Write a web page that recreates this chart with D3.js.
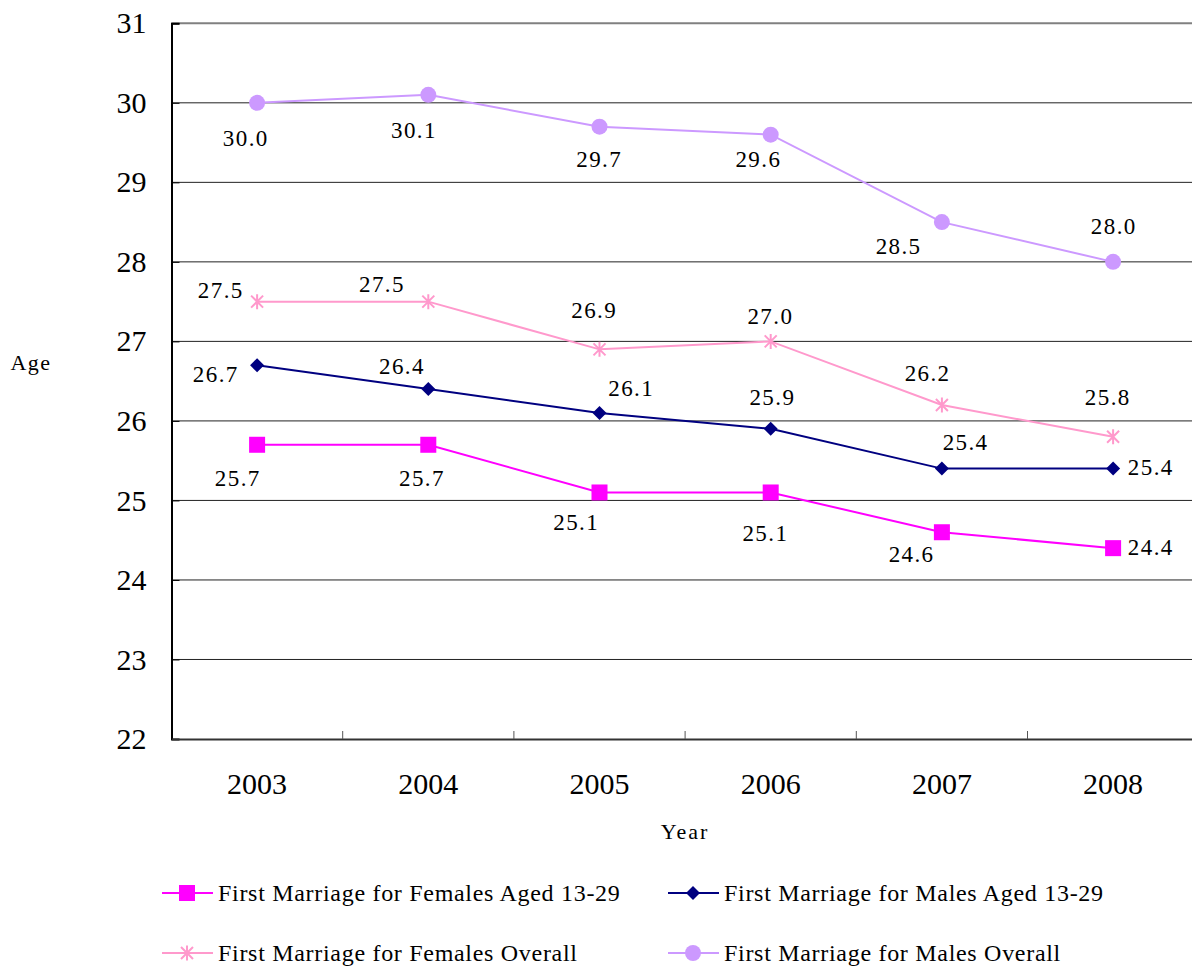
<!DOCTYPE html>
<html lang="en">
<head>
<meta charset="UTF-8">
<title>Age at First Marriage</title>
<style>
  * { margin: 0; padding: 0; }
  body { background: #fff; width: 1192px; height: 970px; overflow: hidden; }
  svg { display: block; font-family: 'Liberation Serif', 'Times New Roman', serif; }
</style>
</head>
<body>
<svg width="1192" height="970"></svg>
<script src="https://d3js.org/d3.v7.min.js"></script>
<script>
// data
const years = ['2003', '2004', '2005', '2006', '2007', '2008'];
const femalesYoung = [25.7, 25.7, 25.1, 25.1, 24.6, 24.4];
const malesYoung = [26.7, 26.4, 26.1, 25.9, 25.4, 25.4];
const femalesAll = [27.5, 27.5, 26.9, 27.0, 26.2, 25.8];
const malesAll = [30.0, 30.1, 29.7, 29.6, 28.5, 28.0];
const yTicks = [22, 23, 24, 25, 26, 27, 28, 29, 30, 31];

// label offsets from the point (centre of text), per series
const labelOffsets = {
  femalesYoung: [[-20, 34], [-7, 34], [-24, 30], [-6, 41], [-31, 22], [37, -1]],
  malesYoung: [[-42, 9], [-27, -23], [31, -24], [1, -31], [23, -26], [37, -1]],
  femalesAll: [[-37, -11], [-47, -17], [-6, -39], [-1, -25], [-15, -32], [-6, -39]],
  malesAll: [[-12, 36], [-15, 36], [-1, 33], [-13, 25], [-44, 24], [0, -35]],
};

const series = [
  { key: 'femalesYoung', name: 'First Marriage for Females Aged 13-29', values: femalesYoung, color: '#FF00FF', marker: 'square' },
  { key: 'malesYoung', name: 'First Marriage for Males Aged 13-29', values: malesYoung, color: '#000080', marker: 'diamond' },
  { key: 'femalesAll', name: 'First Marriage for Females Overall', values: femalesAll, color: '#FF99CC', marker: 'star' },
  { key: 'malesAll', name: 'First Marriage for Males Overall', values: malesAll, color: '#CC99FF', marker: 'circle' },
];

const svg = d3.select('svg');
const plotLeft = 171.5, plotRight = 1198.7, plotTop = 23.3, plotBottom = 739;

const x = d3.scaleBand().domain(years).range([plotLeft, plotRight]);
const xc = d => x(d) + x.bandwidth() / 2;
const y = d3.scaleLinear().domain([22, 31]).range([plotBottom, plotTop]);

// grid
svg.append('g').selectAll('line')
  .data(yTicks.filter(t => t > 22 && t < 31)).join('line')
  .attr('x1', plotLeft).attr('x2', plotRight)
  .attr('y1', d => y(d)).attr('y2', d => y(d))
  .attr('stroke', '#222').attr('stroke-width', 1);

// top frame
svg.append('line')
  .attr('x1', plotLeft).attr('x2', plotRight).attr('y1', y(31)).attr('y2', y(31))
  .attr('stroke', '#808080').attr('stroke-width', 2);

// y axis
const yAxis = svg.append('g')
  .attr('transform', `translate(${plotLeft},0)`)
  .call(d3.axisLeft(y).tickValues(yTicks).tickSize(-8).tickPadding(25).tickFormat(d3.format('d')));
yAxis.select('.domain').attr('stroke', '#000').attr('stroke-width', 2);
yAxis.selectAll('.tick line').attr('stroke', '#000');
yAxis.selectAll('text').attr('font-size', 30).attr('fill', '#000').attr('font-family', 'Liberation Serif');

// x axis
const xAxis = svg.append('g')
  .attr('transform', `translate(0,${plotBottom})`)
  .call(d3.axisBottom(x).tickSize(0).tickPadding(34));
xAxis.select('.domain').attr('stroke', '#333').attr('stroke-width', 2);
xAxis.selectAll('text').attr('font-size', 30).attr('fill', '#000').attr('font-family', 'Liberation Serif');
svg.append('g').selectAll('line')
  .data(years.slice(1)).join('line')
  .attr('x1', d => x(d)).attr('x2', d => x(d))
  .attr('y1', plotBottom).attr('y2', plotBottom - 8)
  .attr('stroke', '#555').attr('stroke-width', 1);

// axis titles
svg.append('text').attr('x', 31).attr('y', 370).attr('text-anchor', 'middle')
  .attr('font-size', 22).attr('letter-spacing', 1.5).text('Age');
svg.append('text').attr('x', 685).attr('y', 839).attr('text-anchor', 'middle')
  .attr('font-size', 22).attr('letter-spacing', 2).text('Year');

function drawMarker(g, type, color) {
  if (type === 'square') {
    g.append('rect').attr('x', -8).attr('y', -8).attr('width', 16).attr('height', 16).attr('fill', color);
  } else if (type === 'diamond') {
    g.append('path').attr('d', 'M0,-7L7,0L0,7L-7,0Z').attr('fill', color);
  } else if (type === 'circle') {
    g.append('circle').attr('r', 8).attr('fill', color);
  } else {
    g.append('path').attr('d', 'M-6,-6L6,6M-6,6L6,-6M0,-7.5L0,7.5')
      .attr('stroke', color).attr('stroke-width', 2).attr('fill', 'none');
  }
}

const line = d3.line().x((d, i) => xc(years[i])).y(d => y(d));

for (const s of series) {
  const g = svg.append('g');
  g.append('path').datum(s.values)
    .attr('d', line).attr('fill', 'none')
    .attr('stroke', s.color).attr('stroke-width', 2);
  s.values.forEach((v, i) => {
    drawMarker(g.append('g').attr('transform', `translate(${xc(years[i])},${y(v)})`), s.marker, s.color);
  });
  g.selectAll('text.lbl').data(s.values).join('text')
    .attr('class', 'lbl')
    .attr('x', (d, i) => xc(years[i]) + labelOffsets[s.key][i][0] + 0.7)
    .attr('y', (d, i) => y(d) + labelOffsets[s.key][i][1] + 7.5)
    .attr('text-anchor', 'middle').attr('font-size', 23).attr('letter-spacing', 1.4).attr('fill', '#000')
    .text(d => d.toFixed(1));
}

// legend
const legendPos = [[162, 893], [668, 893], [162, 953], [668, 953]];
series.forEach((s, i) => {
  const [lx, ly] = legendPos[i];
  const g = svg.append('g').attr('transform', `translate(${lx},${ly})`);
  g.append('line').attr('x1', 0).attr('x2', 51).attr('stroke', s.color).attr('stroke-width', 2);
  drawMarker(g.append('g').attr('transform', 'translate(25,0)'), s.marker, s.color);
  g.append('text').attr('x', 56).attr('y', 8).attr('font-size', 24).attr('letter-spacing', 0.7)
    .attr('fill', '#000').text(s.name);
});
</script>
</body>
</html>
